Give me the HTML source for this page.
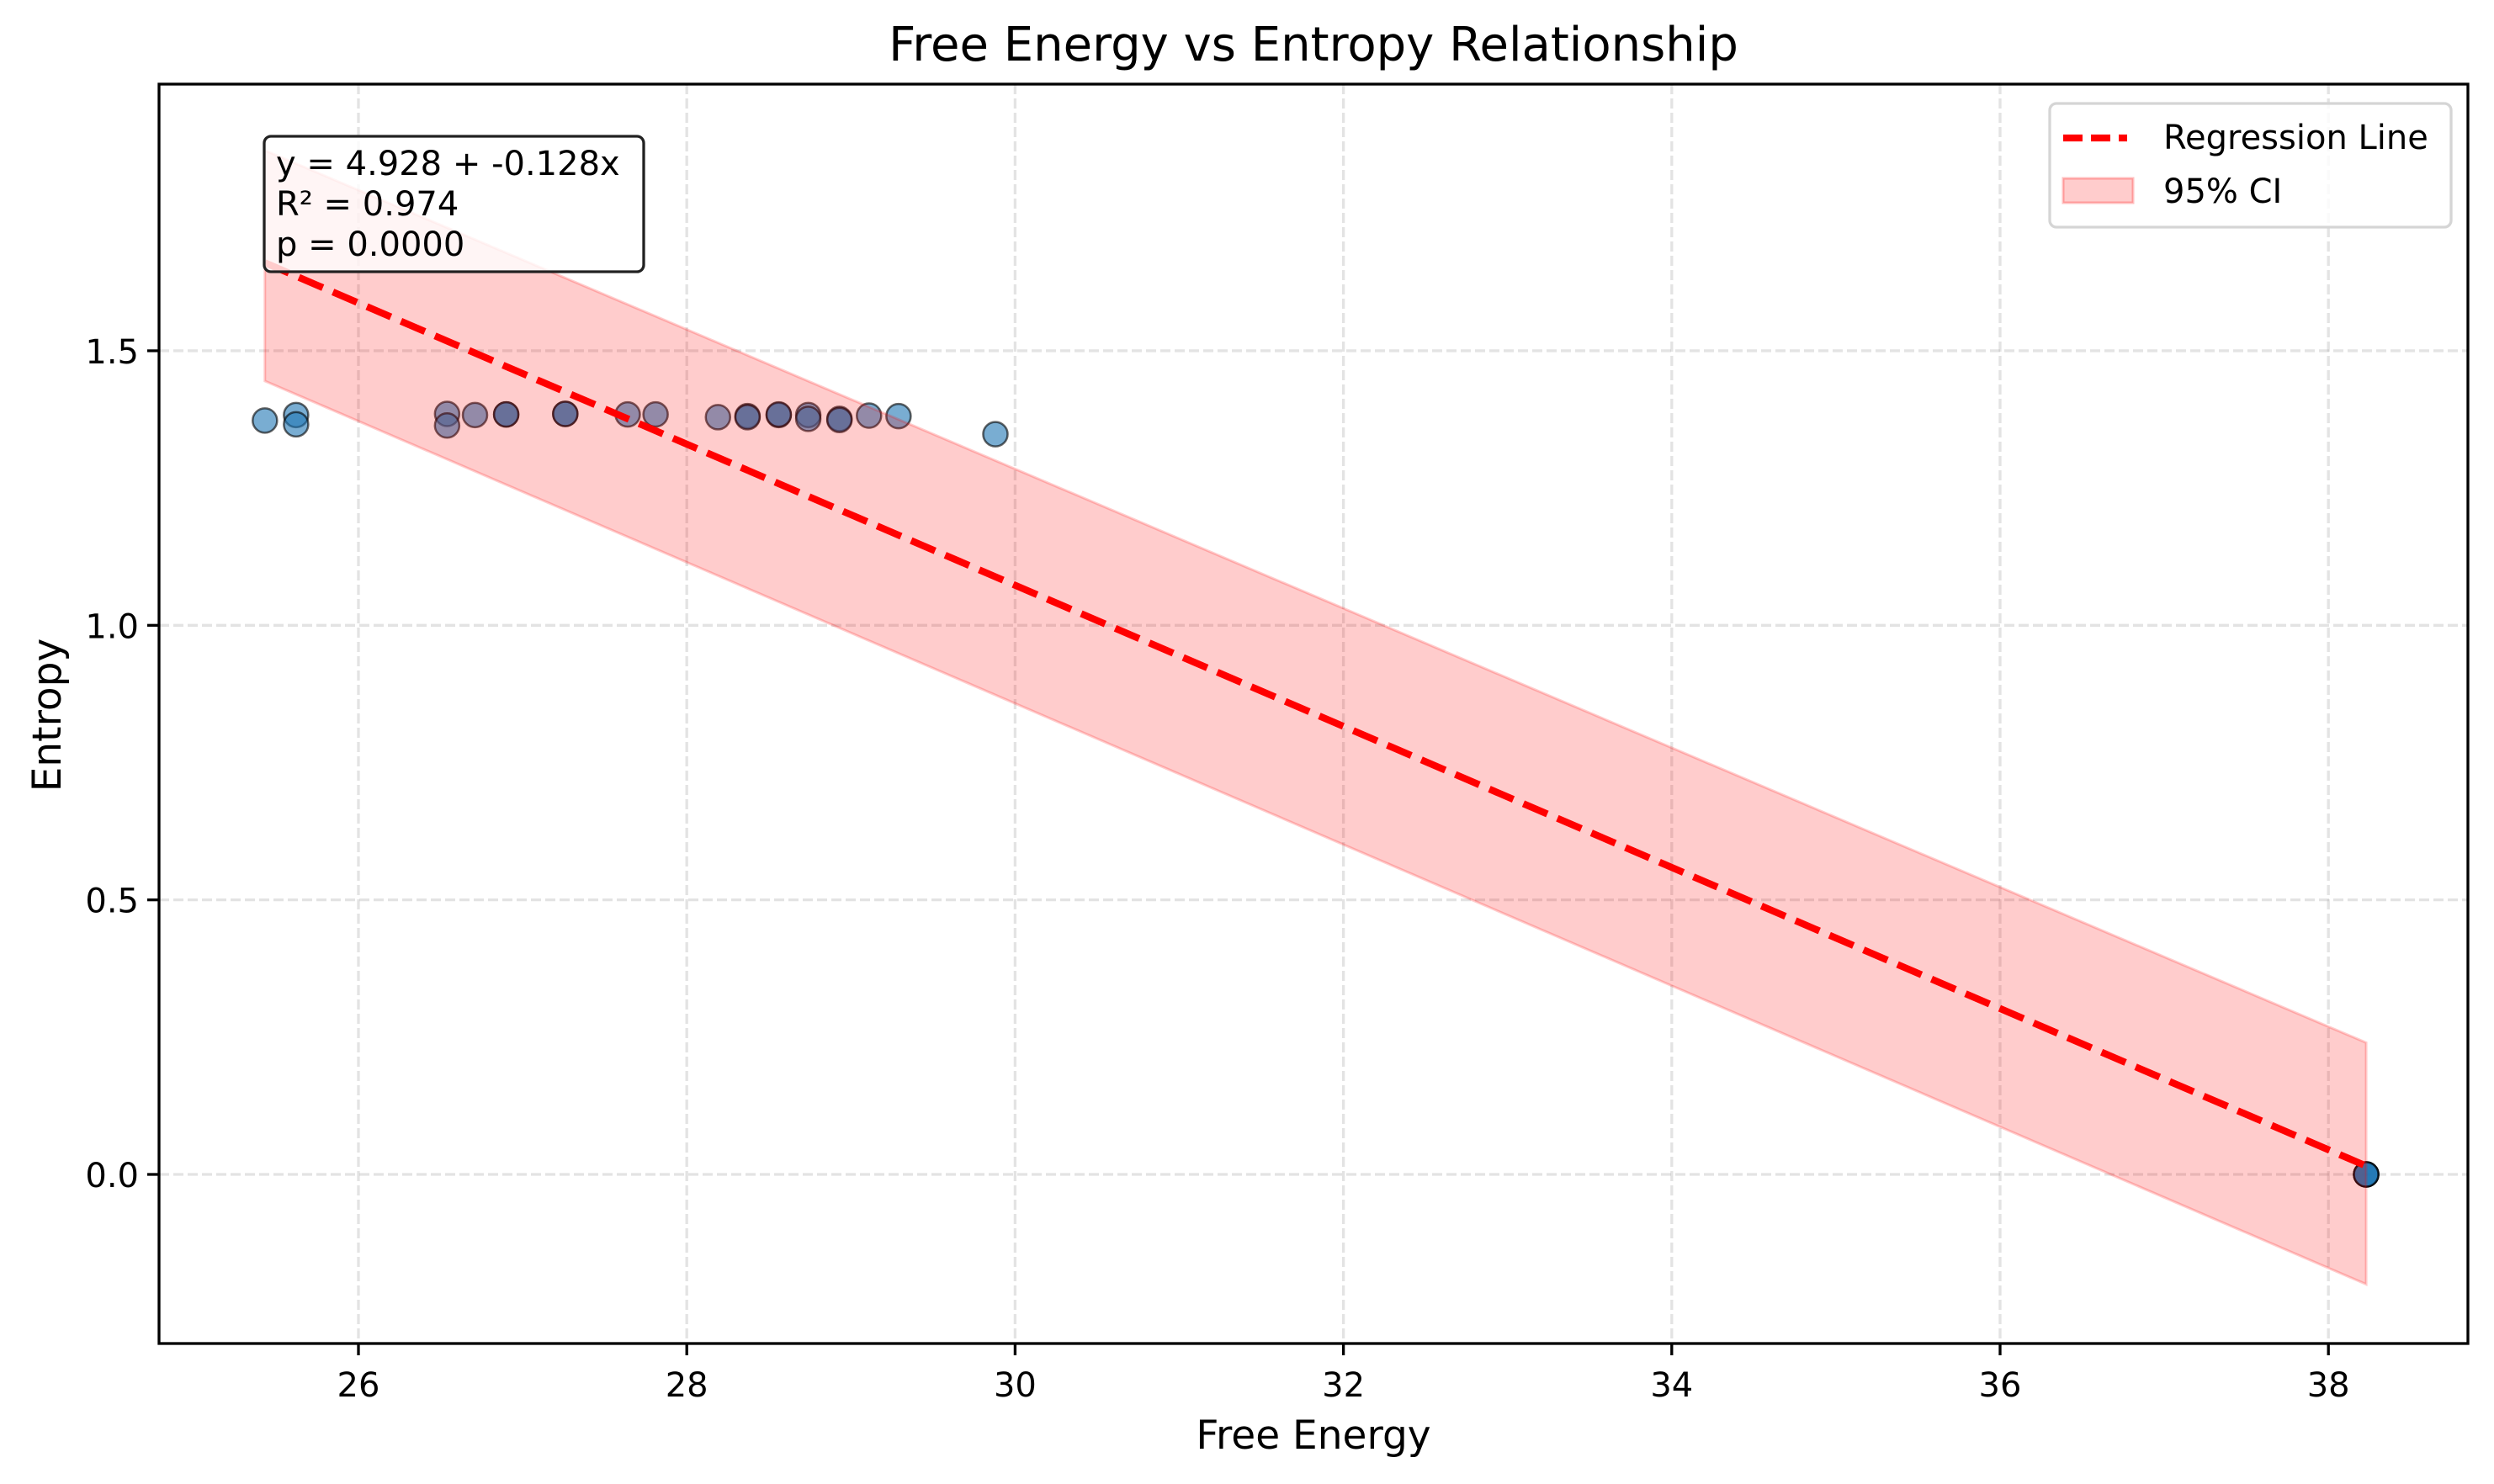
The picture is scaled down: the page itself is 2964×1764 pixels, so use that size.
<!DOCTYPE html>
<html><head><meta charset="utf-8"><style>
html,body{margin:0;padding:0;background:#fff;}
svg{display:block;font-family:"DejaVu Sans","Liberation Sans",sans-serif;}
</style></head><body>
<svg id="chart" width="2964" height="1764" viewBox="0 0 2964 1764" xmlns="http://www.w3.org/2000/svg">
<rect width="2964" height="1764" fill="#fff"/>
<g id="grid"></g>
<g id="points"></g>
<g id="band"></g>
<g id="line"></g>
<g id="axes"></g>
<text x="1561" y="72" font-size="56" text-anchor="middle">Free Energy vs Entropy Relationship</text>
<text x="1561" y="1722" font-size="47" text-anchor="middle">Free Energy</text>
<text x="0" y="0" font-size="47" text-anchor="middle" transform="translate(72,850) rotate(-90)">Entropy</text>
<g>
<rect x="314" y="162" width="451" height="161" rx="8" fill="#fff" fill-opacity="0.8" stroke="#222" stroke-width="3.3"/>
<text x="328" y="208" font-size="40">y = 4.928 + -0.128x</text>
<text x="328" y="256" font-size="40">R² = 0.974</text>
<text x="328" y="304" font-size="40">p = 0.0000</text>
</g>
<g>
<rect x="2436" y="123" width="477" height="147" rx="8" fill="#fff" fill-opacity="0.8" stroke="#d5d5d5" stroke-width="3.3"/>
<line x1="2452" y1="164" x2="2528" y2="164" stroke="#ff0000" stroke-width="8.3" stroke-dasharray="23,10"/>
<text x="2571" y="177" font-size="40">Regression Line</text>
<rect x="2452" y="212" width="83" height="29" fill="#ff0000" fill-opacity="0.2" stroke="#ff0000" stroke-opacity="0.25" stroke-width="3"/>
<text x="2571" y="241" font-size="40">95% CI</text>
</g>
<script>
const xs = [25.43,25.62,25.62,26.54,26.54,26.71,26.90,26.90,27.26,27.26,27.64,27.81,28.19,28.37,28.37,28.56,28.56,28.74,28.74,28.93,28.93,29.11,29.29,29.88,38.23,38.23,38.23,38.23];
const ys = [1.373,1.383,1.366,1.385,1.364,1.383,1.384,1.384,1.385,1.385,1.384,1.384,1.379,1.381,1.379,1.383,1.384,1.383,1.376,1.376,1.374,1.382,1.381,1.348,0.0,0.0,0.0,0.0];
const fitX = [25.43,38.23];
const fitIntercept = 4.928;
const fitSlope = -0.1285;
const ciUpper = [1.865,0.24];
const ciLower = [1.445,-0.20];
const xTicks = [26,28,30,32,34,36,38];
const yTicks = [0.0,0.5,1.0,1.5];
const yTickLabels = ["0.0","0.5","1.0","1.5"];

const L=189,R=2933,T=100,B=1597;
const X=v=>426+(v-26)*195.1;
const Y=v=>1396-v*652.7;
const NS="http://www.w3.org/2000/svg";
function mk(tag,attrs,parent){const e=document.createElementNS(NS,tag);for(const k in attrs)e.setAttribute(k,attrs[k]);parent.appendChild(e);return e;}
const grid=document.getElementById('grid'),axes=document.getElementById('axes');
xTicks.forEach(t=>{
  const g=mk('line',{x1:X(t),x2:X(t),y1:T,y2:B,stroke:'#b0b0b0','stroke-opacity':0.35,'stroke-width':3.3,'stroke-dasharray':'12,5'},grid);
  
  
  const tk=mk('line',{x1:X(t),x2:X(t),y1:B,y2:B+14,stroke:'#000','stroke-width':3.3},axes);
  
  
  const lb=mk('text',{x:X(t),y:1660,'font-size':40,'text-anchor':'middle'},axes);
  lb.textContent=String(t);
  
  
});
yTicks.forEach((t,i)=>{
  const g=mk('line',{x1:L,x2:R,y1:Y(t),y2:Y(t),stroke:'#b0b0b0','stroke-opacity':0.35,'stroke-width':3.3,'stroke-dasharray':'12,5'},grid);
  
  
  const tk=mk('line',{x1:L-14,x2:L,y1:Y(t),y2:Y(t),stroke:'#000','stroke-width':3.3},axes);
  
  
  const lb=mk('text',{x:L-24,y:Y(t)+15,'font-size':40,'text-anchor':'end'},axes);
  lb.textContent=yTickLabels[i];
  
  
});
const frame=mk('rect',{x:L,y:T,width:R-L,height:B-T,fill:'none',stroke:'#000','stroke-width':3.3},axes);



const pts=document.getElementById('points');
xs.forEach((x,i)=>{
  const c=mk('circle',{cx:X(x),cy:Y(ys[i]),r:14.5,fill:'#1f77b4','fill-opacity':0.6,stroke:'#000','stroke-opacity':0.6,'stroke-width':2.5},pts);
  
  
});
const band=document.getElementById('band');
const bp=`${X(fitX[0])},${Y(ciUpper[0])} ${X(fitX[1])},${Y(ciUpper[1])} ${X(fitX[1])},${Y(ciLower[1])} ${X(fitX[0])},${Y(ciLower[0])}`;
const poly=mk('polygon',{points:bp,fill:'#ff0000','fill-opacity':0.2,stroke:'#ff0000','stroke-opacity':0.2,'stroke-width':3},band);


const ln=document.getElementById('line');
const rl=mk('line',{x1:X(fitX[0]),y1:Y(fitIntercept+fitSlope*fitX[0]),x2:X(fitX[1]),y2:Y(fitIntercept+fitSlope*fitX[1]),stroke:'#ff0000','stroke-width':8.3,'stroke-dasharray':'31,13'},ln);


</script>
</svg>
</body></html>
